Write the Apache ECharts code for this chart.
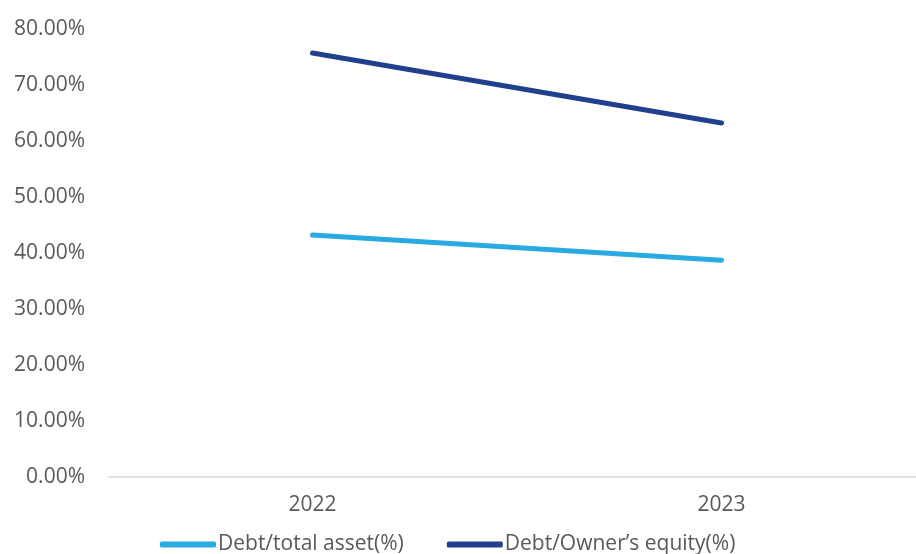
<!DOCTYPE html>
<html><head><meta charset="utf-8">
<script src="https://cdn.jsdelivr.net/npm/echarts@6/dist/echarts.min.js"></script>
<style>html,body{margin:0;padding:0;background:#fff}#c{width:916px;height:554px}</style>
</head><body><div id="c"></div>
<script>
const categories = ['2022', '2023'];
const debtTotalAsset = [43.2, 38.7];
const debtOwnerEquity = [75.7, 63.2];
const seriesNames = ['Debt/total asset(%)', 'Debt/Owner\u2019s equity(%)'];

const chart = echarts.init(document.getElementById('c'));
const font = '"Open Sans", sans-serif';
chart.setOption({
  animation: false,
  grid: {left: 108, top: 29, width: 818, height: 448, containLabel: false, outerBoundsMode: 'none'},
  legend: {
    left: 155, top: 529, itemWidth: 56, itemHeight: 6, itemGap: 43,
    icon: 'roundRect',
    textStyle: {fontFamily: font, fontSize: 21, color: '#595959', padding: [0, 0, 0, -3]},
    data: seriesNames
  },
  xAxis: {
    type: 'category', data: categories, boundaryGap: true,
    axisLine: {lineStyle: {color: '#d9d9d9', width: 1.5}},
    axisTick: {show: false},
    axisLabel: {fontFamily: font, fontSize: 21, color: '#595959', margin: 18}
  },
  yAxis: {
    type: 'value', min: 0, max: 80, interval: 10,
    axisLine: {show: false}, axisTick: {show: false},
    splitLine: {show: false},
    axisLabel: {fontFamily: font, fontSize: 21, color: '#595959', margin: 23,
      formatter: v => v.toFixed(2) + '%'}
  },
  series: [
    {name: seriesNames[0], type: 'line', data: debtTotalAsset, symbol: 'none',
     lineStyle: {color: '#29abe2', width: 5, cap: 'round'}, itemStyle: {color: '#29abe2'}},
    {name: seriesNames[1], type: 'line', data: debtOwnerEquity, symbol: 'none',
     lineStyle: {color: '#203f8c', width: 5, cap: 'round'}, itemStyle: {color: '#203f8c'}}
  ]
});
</script></body></html>
